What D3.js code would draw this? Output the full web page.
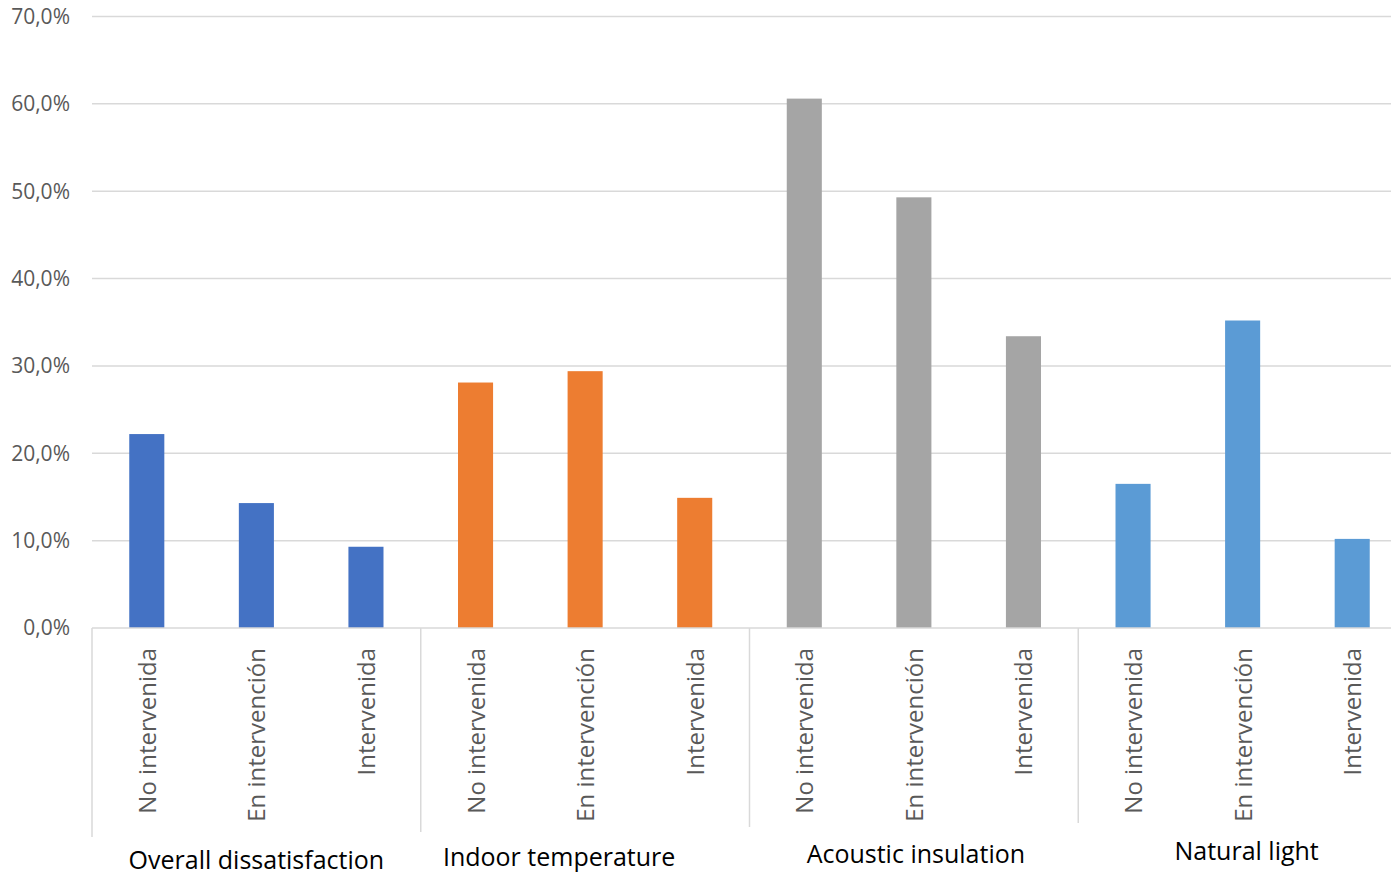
<!DOCTYPE html>
<html>
<head>
<meta charset="utf-8">
<script src="https://cdn.jsdelivr.net/npm/d3@7"></script>
<style>
  body { margin: 0; background: #fff; }
  svg { display: block; font-family: "Open Sans", sans-serif; }
</style>
</head>
<body>
<script>
// data
const groups = ['Overall dissatisfaction', 'Indoor temperature', 'Acoustic insulation', 'Natural light'];
const stages = ['No intervenida', 'En intervención', 'Intervenida'];
const values = [
    [22.2, 14.3, 9.3],
    [28.1, 29.4, 14.9],
    [60.6, 49.3, 33.4],
    [16.5, 35.2, 10.2]
];
const colors = ['#4472C4', '#ED7D31', '#A5A5A5', '#5B9BD5'];
const yTicks = [0, 10, 20, 30, 40, 50, 60, 70];

// layout
const W = 1391, H = 877;
const plotLeft = 92, plotRight = 1407, plotTop = 16.5, plotBottom = 628;
const sepBottom = [837, 832, 827, 823];
const labelY = [869, 866, 863, 860];
const labelDx = [0, -26, 2, 4];

const rows = [];
groups.forEach((g, gi) => stages.forEach((s, si) =>
    rows.push({ key: gi + '-' + si, group: gi, stage: s, value: values[gi][si] })));

const x = d3.scaleBand().domain(rows.map(d => d.key)).range([plotLeft, plotRight])
    .paddingInner(0.68).paddingOuter(0.34);
const y = d3.scaleLinear().domain([0, 70]).range([plotBottom, plotTop]);
const step = x.step();
const gx = gi => plotLeft + gi * 3 * step;

const svg = d3.select('body').append('svg')
    .attr('width', W).attr('height', H);

// gridlines
svg.append('g').selectAll('line')
    .data(yTicks.filter(t => t > 0))
    .enter().append('line')
    .attr('x1', plotLeft).attr('x2', plotRight)
    .attr('y1', d => y(d)).attr('y2', d => y(d))
    .attr('stroke', '#d9d9d9').attr('stroke-width', 1.5);

// y labels
svg.append('g').selectAll('text')
    .data(yTicks)
    .enter().append('text')
    .attr('x', 70).attr('y', d => y(d))
    .attr('dy', '0.35em')
    .attr('text-anchor', 'end')
    .attr('font-size', 21)
    .attr('fill', '#595959')
    .text(d => d3.format('.1f')(d).replace('.', ',') + '%');

// bars
svg.append('g').selectAll('rect')
    .data(rows)
    .enter().append('rect')
    .attr('x', d => x(d.key))
    .attr('width', x.bandwidth())
    .attr('y', d => y(d.value))
    .attr('height', d => y(0) - y(d.value))
    .attr('fill', d => colors[d.group]);

// axis line
svg.append('line')
    .attr('x1', plotLeft).attr('x2', plotRight)
    .attr('y1', plotBottom).attr('y2', plotBottom)
    .attr('stroke', '#d9d9d9').attr('stroke-width', 1.5);

// group separators
svg.append('g').selectAll('line')
    .data(groups)
    .enter().append('line')
    .attr('x1', (d, i) => gx(i)).attr('x2', (d, i) => gx(i))
    .attr('y1', plotBottom).attr('y2', (d, i) => sepBottom[i])
    .attr('stroke', '#d9d9d9').attr('stroke-width', 1.5);

// category labels
svg.append('g').selectAll('text')
    .data(rows)
    .enter().append('text')
    .attr('transform', d => `translate(${x(d.key) + x.bandwidth() / 2 + 9},648) rotate(-90)`)
    .attr('text-anchor', 'end')
    .attr('font-size', 24)
    .attr('fill', '#595959')
    .text(d => d.stage);

// group labels
svg.append('g').selectAll('text')
    .data(groups)
    .enter().append('text')
    .attr('x', (d, i) => gx(i) + 1.5 * step + labelDx[i])
    .attr('y', (d, i) => labelY[i])
    .attr('text-anchor', 'middle')
    .attr('font-size', 25)
    .attr('fill', '#000')
    .text(d => d);
</script>
</body>
</html>
